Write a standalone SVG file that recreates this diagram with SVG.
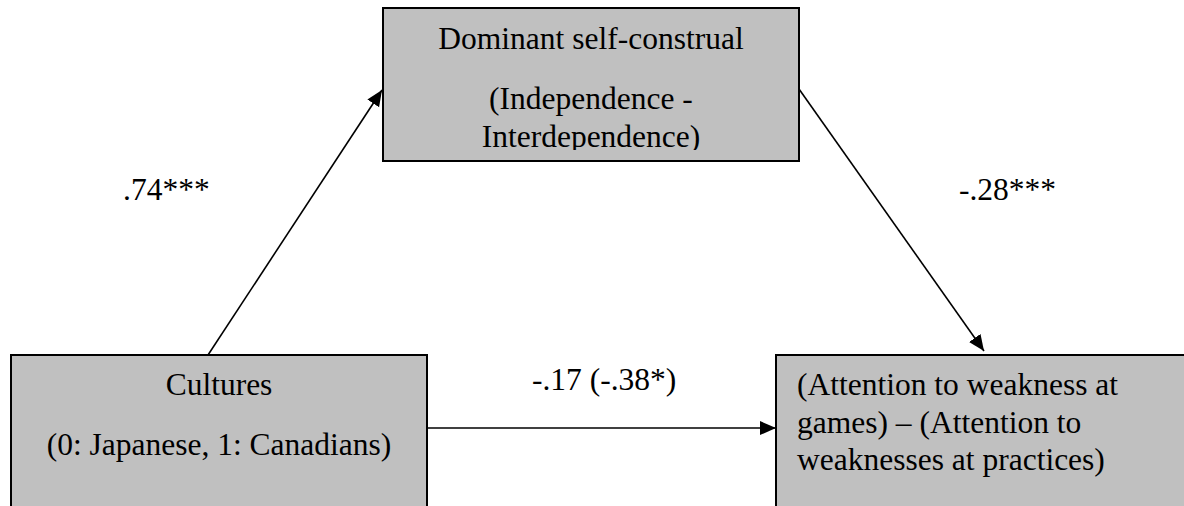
<svg xmlns="http://www.w3.org/2000/svg" width="1184" height="506" viewBox="0 0 1184 506">
<style>
.box{fill:#c0c0c0;stroke:#000;stroke-width:2}
.t{font-family:'Liberation Serif','Times New Roman',Times,serif;font-size:31.5px;fill:#000}
.c{text-anchor:middle}
.edge{stroke:#000;stroke-width:1.6;fill:none;marker-end:url(#ah)}
</style>
<defs>
<marker id="ah" markerUnits="userSpaceOnUse" markerWidth="18" markerHeight="16" refX="16" refY="7" orient="auto">
<path d="M0,0 L16,7 L0,14 Z" fill="#000"/>
</marker>
<clipPath id="clipTop"><rect x="384" y="9" width="414" height="141"/></clipPath>
</defs>
<rect width="1184" height="506" fill="#fff"/>
<g id="connectors">
<line class="edge" x1="208" y1="355" x2="382" y2="90"/>
<line class="edge" x1="799" y1="89" x2="984" y2="351"/>
<line class="edge" x1="427" y1="428" x2="776" y2="428"/>
<text class="t" x="123" y="200" font-family="Liberation Serif, serif">.74***</text>
<text class="t" x="959" y="200" font-family="Liberation Serif, serif">-.28***</text>
<text class="t" x="532" y="390" font-family="Liberation Serif, serif">-.17 (-.38*)</text>
</g>
<g id="node-self">
<rect class="box" x="383" y="8" width="416" height="153"/>
<g clip-path="url(#clipTop)" font-family="Liberation Serif, serif">
<text class="t c" x="591" y="49">Dominant self-construal</text>
<text class="t c" x="591" y="109">(Independence -</text>
<text class="t c" x="591" y="147">Interdependence)</text>
</g>
</g>
<g id="node-cultures" font-family="Liberation Serif, serif">
<rect class="box" x="11" y="355" width="416" height="160"/>
<text class="t c" x="219" y="395">Cultures</text>
<text class="t c" x="219" y="455">(0: Japanese, 1: Canadians)</text>
</g>
<g id="node-attention" font-family="Liberation Serif, serif">
<rect class="box" x="776" y="355" width="420" height="160"/>
<text class="t" x="797" y="395">(Attention to weakness at</text>
<text class="t" x="797" y="433">games) – (Attention to</text>
<text class="t" x="797" y="470">weaknesses at practices)</text>
</g>
</svg>
